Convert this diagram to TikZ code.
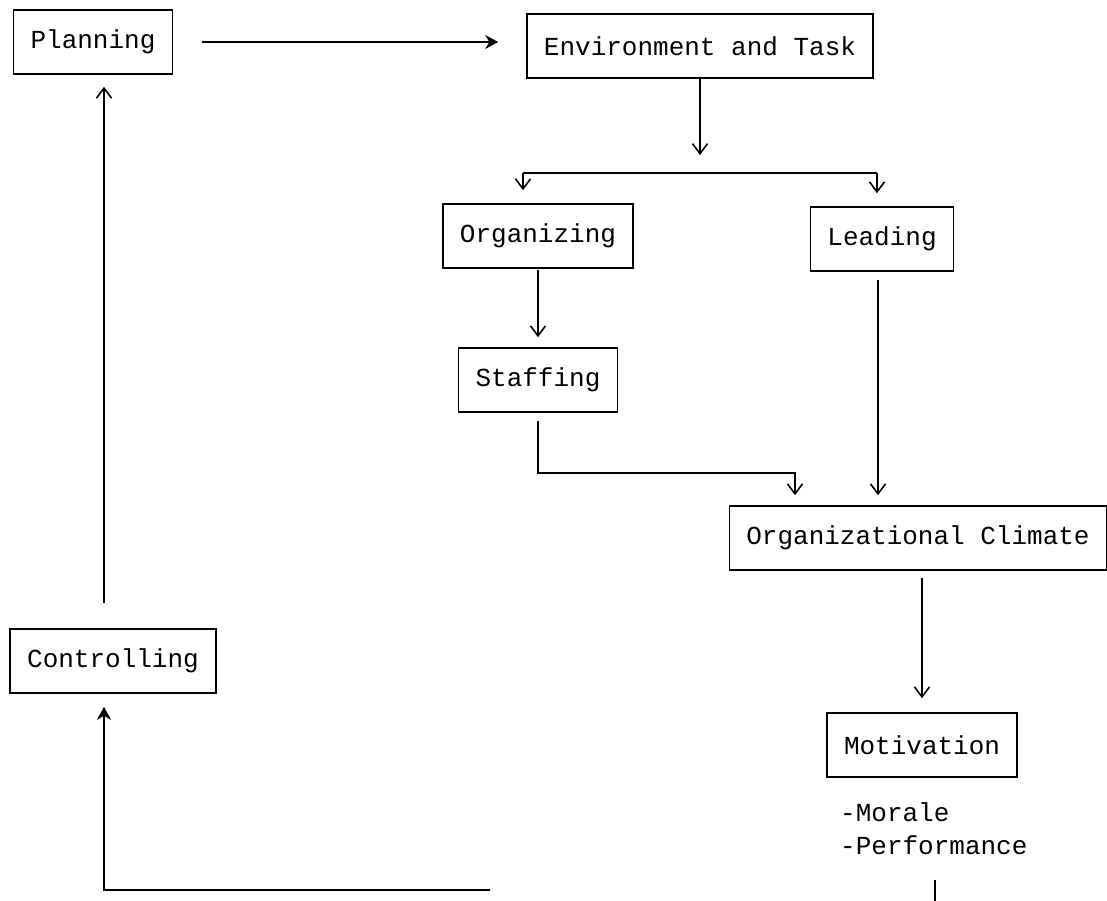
\documentclass[tikz,border=0pt]{standalone}
\usepackage{fontspec}
\setmainfont{Liberation Mono}
\usepackage{tikz}
\usetikzlibrary{calc,arrows.meta,positioning}
\tikzset{
  ln/.style={line width=1.6pt},
  ar/.style={-{Straight Barb[length=10pt,width=15pt]},line width=1.6pt},
  arf/.style={-{Stealth[length=13pt,width=14pt]},line width=1.6pt},
  box/.style={draw,line width=1.6pt,minimum height=64pt,inner xsep=17pt,font=\fontsize{26}{30}\selectfont},
  lst/.style={inner sep=0pt,anchor=west,font=\fontsize{26}{30}\selectfont}
}
\begin{document}
\begin{tikzpicture}[x=1pt,y=-1pt]
\useasboundingbox (0,0) rectangle (1107,901);
% boxes
\node[box] (plan) at (93,42) {Planning};
\node[box] (env) at (700,46) {Environment and Task};
\node[box] (org) at (538,236) {Organizing};
\node[box] (lead) at (882,239) {Leading};
\node[box] (staff) at (538,380) {Staffing};
\node[box] (clim) at (918,538) {Organizational Climate};
\node[box] (ctrl) at (113,661) {Controlling};
\node[box] (mot) at (922,745) {Motivation};
\node[lst] (mor) at (840,812) {-Morale};
\node[lst] (perf) at (840,845) {-Performance};
% helper points
\coordinate (fk) at (700,173);
\coordinate (fl) at (523,173);
\coordinate (fr) at (877,173);
\coordinate (kn) at (795,473);
\coordinate (ld) at (878,280);
\coordinate (lp) at (104,890);
\coordinate (le) at (490,890);
\coordinate (st) at (935,880);
\coordinate (sb) at (935,901);
% connectors
\draw[arf,shorten <=29pt,shorten >=28pt] (plan.east) -- (plan.east -| env.west);
\draw[ar,shorten >=18pt] (env.south) -- (fk);
\draw[ln] (fl) -- (fr);
\draw[ar,shorten >=13pt] (fl) -- (fl |- org.north);
\draw[ar,shorten >=13pt] (fr) -- (fr |- lead.north);
\draw[ar,shorten <=1pt,shorten >=10pt] (org.south) -- (staff.north);
\draw[ar,shorten <=8pt,shorten >=10pt] (staff.south) |- (kn) -- (kn |- clim.north);
\draw[ar,shorten >=10pt] (ld) -- (ld |- clim.north);
\draw[ar,shorten <=7pt,shorten >=14pt] (mot.north |- clim.south) -- (mot.north);
\draw[ar,shorten <=25pt,shorten >=12pt] (lp |- ctrl.north) -- (lp |- plan.south);
\draw[arf,shorten >=13pt] (le) -- (lp) -- (lp |- ctrl.south);
\draw[ln] (st) -- (sb);
\end{tikzpicture}
\end{document}
